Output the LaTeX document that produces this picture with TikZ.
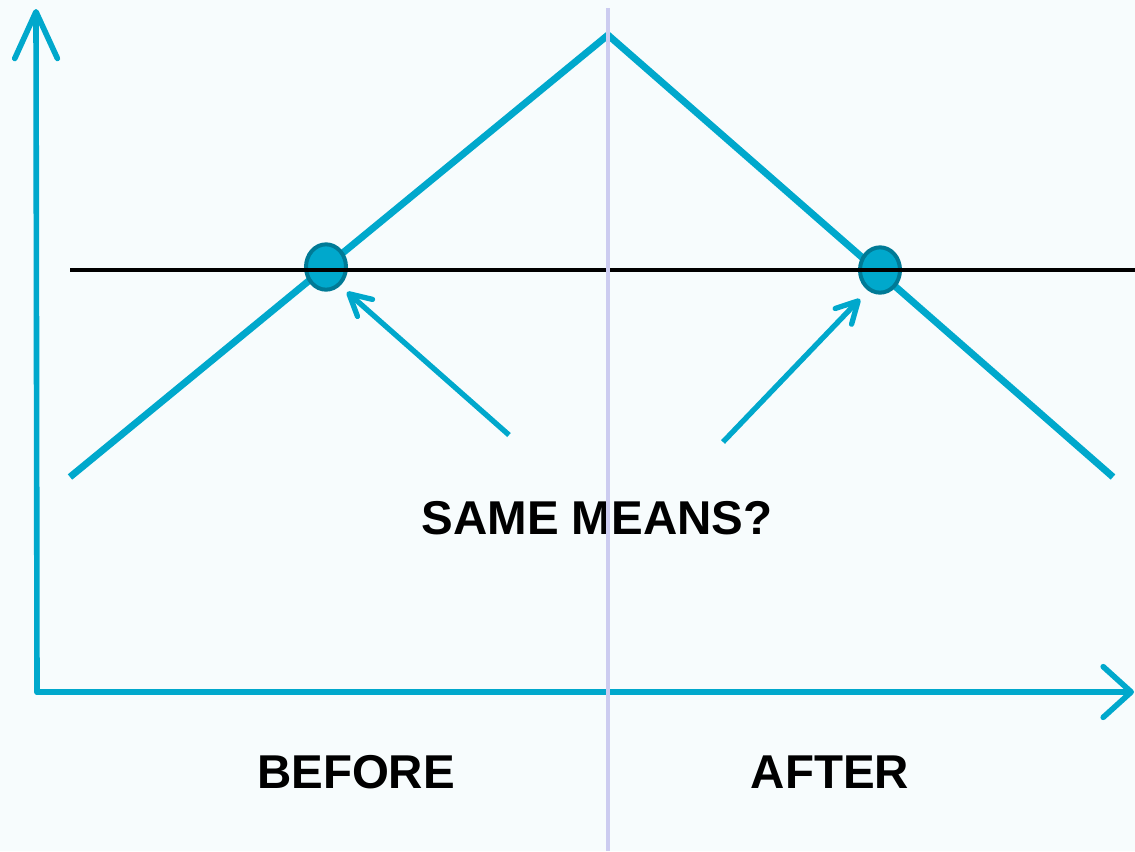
\documentclass[tikz,border=0pt]{standalone}
\usepackage{fontspec}
\setmainfont{Liberation Sans}
\usetikzlibrary{arrows.meta,shapes.geometric}
\definecolor{meanblue}{RGB}{0,168,204}
\definecolor{meanedge}{RGB}{0,122,150}
\definecolor{splitline}{RGB}{204,204,240}
\definecolor{paper}{RGB}{247,252,253}
\tikzset{
  axisline/.style={meanblue,line width=4.2pt,line cap=round},
  tentline/.style={meanblue,line width=5.2pt,line join=miter},
  meanpoint/.style={ellipse,fill=meanblue,draw=meanedge,line width=3pt,
    minimum width=30pt,minimum height=34pt,inner sep=0pt},
  pointer/.style={meanblue,line width=4pt,
    -{Straight Barb[length=16pt,width=17pt,round]}},
  bigword/.style={anchor=base,font=\bfseries\fontsize{35.6}{40}\selectfont}
}

\begin{document}
\begin{tikzpicture}[x=0.75pt,y=-0.75pt]
\useasboundingbox (0,0) rectangle (1135,851);
\fill[paper] (0,0) rectangle (1135,851);

% axes
\coordinate (origin) at (37,692);
\coordinate (ytop) at (36,9);
\coordinate (xend) at (1134,692);
\draw[axisline,-{Straight Barb[length=35pt,width=32pt,round]}] (origin) -- (ytop);
\draw[axisline,-{Straight Barb[length=21pt,width=38pt,round]}] (origin) -- (xend);

% tent
\coordinate (tl) at (70,477);
\coordinate (peak) at (608,35);
\coordinate (tr) at (1113,477);
\draw[tentline] (tl) -- (peak) -- (tr);

% means
\node[meanpoint] (before) at (326,267) {};
\node[meanpoint] (after) at (880,270) {};
\coordinate (ml) at (70,270);
\coordinate (mr) at (1135,270);
\draw[black,line width=2.6pt] (ml) -- (mr);

\coordinate (qa) at (509,435);
\coordinate (qb) at (723,442);
\coordinate (ta) at (347,292);
\coordinate (tb) at (860,299);
\draw[pointer] (qa) -- (ta);
\draw[pointer] (qb) -- (tb);

\node[bigword] (same) at (597,534) {SAME MEANS?};
\node[bigword] (lbefore) at (356,788) {BEFORE};
\node[bigword] (lafter) at (830,788) {AFTER};

% split
\coordinate (st) at (608,8);
\coordinate (sb) at (608,851);
\draw[splitline,line width=2.8pt] (st) -- (sb);
\end{tikzpicture}
\end{document}
